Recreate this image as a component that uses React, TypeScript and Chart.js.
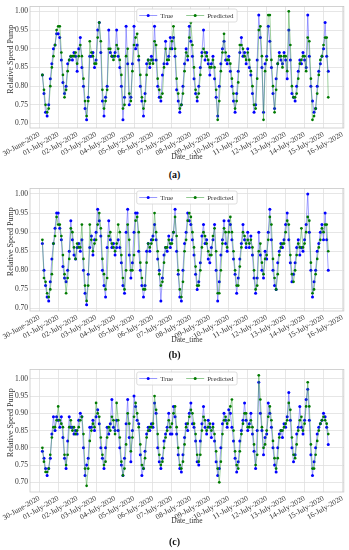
import React, { useEffect, useRef } from "react";
import { Chart, registerables } from "chart.js";

Chart.register(...registerables);

const FONT = '"Liberation Serif", "Times New Roman", serif';

const DAY_LABELS = [
  "30-June-2020", "01-July-2020", "02-July-2020", "03-July-2020", "04-July-2020",
  "05-July-2020", "06-July-2020", "07-July-2020", "08-July-2020", "09-July-2020",
  "10-July-2020", "11-July-2020", "12-July-2020", "13-July-2020", "14-July-2020",
  "15-July-2020", "16-July-2020",
];
const Y_TICKS = [0.7, 0.75, 0.8, 0.85, 0.9, 0.95, 1.0];
const START_HOUR = 4; // first sample: 30-June-2020 04:00
const STEP_HOURS = 2;
const SERIES_NAMES = ["True", "Predicted"];
const X_TITLE = "Date_time";
const Y_TITLE = "Relative Speed Pump";

// ---------- panel (a) ----------
const TRUE_A = [
  0.83, 0.78, 0.73, 0.72, 0.75, 0.82, 0.86, 0.90, 0.91, 0.94,
  0.94, 0.93, 0.87, 0.81, 0.78, 0.80, 0.86, 0.87, 0.88, 0.87, 0.89, 0.88,
  0.84, 0.90, 0.93, 0.85, 0.80, 0.74, 0.71, 0.77, 0.88, 0.88, 0.89, 0.85,
  0.87, 0.95, 0.97, 0.89, 0.76, 0.72, 0.77, 0.80, 0.95, 0.89, 0.88, 0.88,
  0.89, 0.95, 0.88, 0.85, 0.80, 0.71, 0.77, 0.96, 0.86, 0.75, 0.77, 0.86,
  0.96, 0.90, 0.91, 0.87, 0.80, 0.76, 0.72, 0.78, 0.86, 0.87, 0.85, 0.88,
  0.87, 0.96, 0.87, 0.80, 0.77, 0.76, 0.83, 0.86, 0.92, 0.86, 0.88, 0.93,
  0.90, 0.93, 0.88, 0.79, 0.76, 0.73, 0.75, 0.80, 0.86, 0.90, 0.87, 0.96,
  0.92, 0.88, 0.82, 0.78, 0.76, 0.80, 0.85, 0.89, 0.95, 0.87, 0.89, 0.86,
  0.83, 0.86, 0.88, 0.82, 0.77, 0.72, 0.80, 0.86, 0.90, 0.92, 0.87, 0.86,
  0.88, 0.84, 0.80, 0.76, 0.73, 0.78, 0.84, 0.89, 0.93, 0.88, 0.89, 0.86,
  0.90, 0.85, 0.83, 0.78, 0.73, 0.75, 0.87, 0.99, 0.93, 0.85, 0.73, 0.86,
  0.88, 0.96, 0.92, 0.85, 0.78, 0.74, 0.82, 0.86, 0.89, 0.87, 0.86, 0.89,
  0.87, 0.82, 0.95, 0.87, 0.78, 0.77, 0.76, 0.80, 0.84, 0.87, 0.86, 0.89,
  0.87, 0.85, 0.99, 0.88, 0.80, 0.76, 0.73, 0.74, 0.80, 0.84, 0.86, 0.88,
  0.90, 0.97, 0.88, 0.84,
];
const PRED_A = [
  0.83, 0.79, 0.75, 0.73, 0.74, 0.80, 0.85, 0.88, 0.91, 0.95,
  0.96, 0.96, 0.89, 0.83, 0.77, 0.79, 0.84, 0.87, 0.88, 0.88, 0.88, 0.89,
  0.86, 0.88, 0.91, 0.88, 0.82, 0.76, 0.72, 0.76, 0.92, 0.89, 0.88, 0.86,
  0.86, 0.93, 0.97, 0.92, 0.79, 0.74, 0.76, 0.79, 0.90, 0.90, 0.88, 0.87,
  0.88, 0.91, 0.90, 0.87, 0.83, 0.74, 0.75, 0.88, 0.90, 0.78, 0.76, 0.84,
  0.91, 0.93, 0.94, 0.88, 0.83, 0.77, 0.74, 0.76, 0.83, 0.87, 0.86, 0.87,
  0.86, 0.92, 0.91, 0.82, 0.79, 0.77, 0.78, 0.85, 0.90, 0.87, 0.87, 0.90,
  0.92, 0.96, 0.90, 0.82, 0.78, 0.74, 0.75, 0.78, 0.84, 0.89, 0.88, 0.93,
  0.97, 0.91, 0.85, 0.79, 0.77, 0.78, 0.83, 0.88, 0.90, 0.89, 0.88, 0.87,
  0.85, 0.85, 0.87, 0.85, 0.79, 0.71, 0.76, 0.84, 0.89, 0.94, 0.89, 0.87,
  0.87, 0.86, 0.82, 0.78, 0.74, 0.76, 0.81, 0.91, 0.91, 0.90, 0.88, 0.87,
  0.89, 0.87, 0.84, 0.80, 0.75, 0.74, 0.82, 0.95, 0.96, 0.88, 0.71, 0.84,
  0.87, 0.99, 0.99, 0.87, 0.80, 0.73, 0.79, 0.86, 0.88, 0.88, 0.85, 0.88,
  0.88, 0.84, 1.00, 0.91, 0.80, 0.77, 0.77, 0.78, 0.82, 0.86, 0.87, 0.88,
  0.88, 0.84, 0.93, 0.92, 0.82, 0.71, 0.72, 0.74, 0.78, 0.83, 0.87, 0.88,
  0.91, 0.93, 0.93, 0.77,
];

// ---------- panel (b) ----------
const TRUE_B = [
  0.87, 0.80, 0.76, 0.73, 0.72, 0.77, 0.83, 0.87, 0.91, 0.95,
  0.95, 0.91, 0.88, 0.81, 0.78, 0.77, 0.80, 0.85, 0.93, 0.88, 0.84, 0.83,
  0.86, 0.87, 0.85, 0.88, 0.80, 0.74, 0.71, 0.79, 0.86, 0.89, 0.84, 0.88,
  0.90, 0.96, 0.93, 0.89, 0.80, 0.76, 0.73, 0.86, 0.93, 0.88, 0.86, 0.87,
  0.84, 0.86, 0.88, 0.86, 0.82, 0.76, 0.74, 0.90, 0.96, 0.84, 0.78, 0.82,
  0.90, 0.95, 0.95, 0.85, 0.80, 0.76, 0.73, 0.76, 0.85, 0.87, 0.85, 0.88,
  0.89, 0.92, 0.88, 0.83, 0.80, 0.72, 0.78, 0.84, 0.86, 0.85, 0.89, 0.86,
  0.88, 0.90, 0.96, 0.85, 0.79, 0.73, 0.72, 0.80, 0.87, 0.90, 0.95, 0.93,
  0.92, 0.88, 0.84, 0.79, 0.75, 0.77, 0.82, 0.89, 0.92, 0.87, 0.88, 0.83,
  0.82, 0.86, 0.88, 0.92, 0.80, 0.72, 0.77, 0.84, 0.88, 0.93, 0.87, 0.85,
  0.93, 0.92, 0.88, 0.83, 0.79, 0.74, 0.78, 0.83, 0.87, 0.92, 0.88, 0.86,
  0.90, 0.86, 0.89, 0.84, 0.78, 0.74, 0.78, 0.90, 0.84, 0.80, 0.78, 0.85,
  0.83, 0.90, 0.96, 0.88, 0.80, 0.76, 0.75, 0.82, 0.85, 0.87, 0.86, 0.88,
  0.92, 0.95, 0.88, 0.82, 0.77, 0.79, 0.82, 0.86, 0.88, 0.84, 0.86, 0.85,
  0.88, 0.92, 1.00, 0.90, 0.80, 0.73, 0.77, 0.80, 0.85, 0.87, 0.90, 0.92,
  0.88, 0.95, 0.88, 0.80,
];
const PRED_B = [
  0.88, 0.78, 0.77, 0.74, 0.73, 0.75, 0.79, 0.87, 0.89, 0.94,
  0.92, 0.92, 0.89, 0.84, 0.79, 0.74, 0.78, 0.83, 0.91, 0.90, 0.86, 0.83,
  0.87, 0.86, 0.86, 0.92, 0.83, 0.76, 0.72, 0.76, 0.92, 0.88, 0.85, 0.87,
  0.88, 0.92, 0.95, 0.91, 0.83, 0.79, 0.75, 0.78, 0.89, 0.90, 0.87, 0.86,
  0.85, 0.87, 0.92, 0.90, 0.84, 0.78, 0.75, 0.80, 0.92, 0.88, 0.80, 0.80,
  0.84, 0.93, 0.94, 0.90, 0.82, 0.78, 0.75, 0.75, 0.82, 0.87, 0.86, 0.87,
  0.88, 0.95, 0.90, 0.85, 0.79, 0.76, 0.77, 0.82, 0.86, 0.86, 0.88, 0.87,
  0.87, 0.90, 0.94, 0.89, 0.80, 0.75, 0.73, 0.77, 0.85, 0.88, 0.93, 0.95,
  0.94, 0.90, 0.86, 0.81, 0.76, 0.76, 0.80, 0.86, 0.90, 0.89, 0.87, 0.85,
  0.84, 0.84, 0.89, 0.91, 0.85, 0.74, 0.74, 0.80, 0.87, 0.91, 0.90, 0.86,
  0.90, 0.94, 0.90, 0.85, 0.80, 0.76, 0.76, 0.81, 0.86, 0.90, 0.89, 0.87,
  0.88, 0.87, 0.88, 0.86, 0.80, 0.75, 0.76, 0.85, 0.87, 0.82, 0.79, 0.83,
  0.84, 0.88, 0.94, 0.92, 0.83, 0.78, 0.75, 0.79, 0.84, 0.86, 0.87, 0.87,
  0.90, 0.93, 0.92, 0.84, 0.79, 0.77, 0.80, 0.84, 0.87, 0.86, 0.91, 0.86,
  0.87, 0.90, 0.94, 0.93, 0.82, 0.74, 0.75, 0.79, 0.83, 0.86, 0.88, 0.91,
  0.90, 0.92, 0.92, 0.85,
];

// ---------- panel (c) ----------
const TRUE_C = [
  0.79, 0.77, 0.74, 0.72, 0.74, 0.77, 0.84, 0.89, 0.85, 0.89,
  0.88, 0.86, 0.89, 0.83, 0.77, 0.74, 0.82, 0.89, 0.86, 0.86, 0.84, 0.85,
  0.84, 0.88, 0.90, 0.89, 0.80, 0.72, 0.75, 0.77, 0.86, 0.86, 0.88, 0.85,
  0.89, 0.91, 0.87, 0.80, 0.77, 0.74, 0.80, 0.86, 0.84, 0.87, 0.94, 0.86,
  0.85, 0.88, 0.85, 0.80, 0.75, 0.72, 0.77, 0.87, 0.94, 0.83, 0.76, 0.85,
  0.95, 0.92, 0.88, 0.87, 0.78, 0.72, 0.74, 0.79, 0.84, 0.86, 0.85, 0.87,
  0.86, 0.93, 0.90, 0.80, 0.76, 0.74, 0.77, 0.82, 0.84, 0.86, 0.90, 0.84,
  0.84, 0.92, 0.89, 0.84, 0.78, 0.74, 0.73, 0.78, 0.83, 0.87, 0.85, 0.90,
  0.93, 0.87, 0.86, 0.82, 0.76, 0.75, 0.82, 0.87, 0.92, 0.86, 0.84, 0.88,
  0.86, 0.83, 0.87, 0.82, 0.76, 0.72, 0.74, 0.80, 0.87, 0.90, 0.88, 0.86,
  0.91, 0.90, 0.86, 0.82, 0.77, 0.73, 0.76, 0.82, 0.85, 0.88, 0.93, 0.88,
  0.85, 0.87, 0.90, 0.84, 0.79, 0.74, 0.85, 0.99, 0.90, 0.85, 0.78, 0.83,
  0.84, 0.93, 0.90, 0.86, 0.80, 0.75, 0.73, 0.80, 0.84, 0.85, 0.83, 0.87,
  0.86, 0.89, 0.96, 0.88, 0.80, 0.76, 0.78, 0.84, 0.86, 0.92, 0.86, 0.84,
  0.88, 0.94, 0.97, 0.88, 0.78, 0.72, 0.76, 0.80, 0.84, 0.86, 0.87, 0.88,
  0.90, 0.89, 0.86, 0.81,
];
const PRED_C = [
  0.80, 0.76, 0.73, 0.73, 0.74, 0.78, 0.83, 0.86, 0.86, 0.88,
  0.92, 0.88, 0.87, 0.86, 0.78, 0.75, 0.78, 0.86, 0.88, 0.85, 0.86, 0.84,
  0.85, 0.86, 0.88, 0.89, 0.84, 0.74, 0.69, 0.74, 0.82, 0.85, 0.87, 0.86,
  0.93, 0.90, 0.89, 0.83, 0.78, 0.75, 0.76, 0.83, 0.86, 0.85, 0.89, 0.88,
  0.84, 0.93, 0.88, 0.83, 0.76, 0.72, 0.74, 0.81, 0.90, 0.87, 0.79, 0.83,
  0.89, 0.93, 0.90, 0.86, 0.81, 0.75, 0.74, 0.77, 0.83, 0.85, 0.86, 0.86,
  0.87, 0.95, 0.91, 0.84, 0.78, 0.75, 0.76, 0.80, 0.83, 0.85, 0.88, 0.86,
  0.87, 0.90, 0.92, 0.86, 0.80, 0.75, 0.74, 0.76, 0.81, 0.86, 0.87, 0.89,
  0.91, 0.90, 0.87, 0.84, 0.78, 0.76, 0.78, 0.85, 0.89, 0.88, 0.85, 0.86,
  0.87, 0.85, 0.86, 0.84, 0.79, 0.74, 0.70, 0.76, 0.84, 0.88, 0.89, 0.87,
  0.88, 0.92, 0.94, 0.85, 0.79, 0.75, 0.74, 0.79, 0.84, 0.87, 0.90, 0.90,
  0.86, 0.86, 0.88, 0.86, 0.81, 0.75, 0.78, 1.01, 0.94, 0.86, 0.80, 0.81,
  0.85, 0.89, 0.92, 0.88, 0.82, 0.77, 0.74, 0.77, 0.83, 0.85, 0.85, 0.86,
  0.87, 0.88, 0.93, 0.91, 0.83, 0.78, 0.77, 0.81, 0.85, 0.88, 0.89, 0.85,
  0.87, 0.92, 0.99, 0.92, 0.81, 0.74, 0.74, 0.78, 0.82, 0.85, 0.87, 0.88,
  0.89, 0.88, 0.87, 0.84,
];

const X_MIN = -11.7;
const X_MAX = 385.7;

const TRUE_COLOR = "#0000ff";
const TRUE_LINE = "rgba(70,70,255,0.55)";
const PRED_COLOR = "#007a00";
const PRED_LINE = "rgba(40,150,40,0.5)";

type PanelDef = {
  key: string;
  top: number;
  height: number;
  yMin: number;
  yMax: number;
  trueVals: number[];
  predVals: number[];
  caption: string;
  captionY: number;
};

const PANELS: PanelDef[] = [
  { key: "a", top: 0, height: 168, yMin: 0.688, yMax: 1.013, trueVals: TRUE_A, predVals: PRED_A, caption: "(a)", captionY: 175 },
  { key: "b", top: 182, height: 169, yMin: 0.6935, yMax: 1.0144, trueVals: TRUE_B, predVals: PRED_B, caption: "(b)", captionY: 355 },
  { key: "c", top: 363, height: 169, yMin: 0.672, yMax: 1.027, trueVals: TRUE_C, predVals: PRED_C, caption: "(c)", captionY: 542 },
];

const decorPlugin = {
  id: "decor",
  afterDraw(chart: any) {
    const { ctx, chartArea: a } = chart;
    ctx.save();
    ctx.strokeStyle = "#c8c8c8";
    ctx.lineWidth = 0.8;
    ctx.strokeRect(a.left, a.top, a.right - a.left, a.bottom - a.top);

    ctx.fillStyle = "#333";
    ctx.font = `7.5px ${FONT}`;
    ctx.textAlign = "center";
    ctx.textBaseline = "middle";
    ctx.fillText(X_TITLE, (a.left + a.right) / 2, a.bottom + 29);

    ctx.save();
    ctx.font = `8px ${FONT}`;
    ctx.translate(11, (a.top + a.bottom) / 2 - 8);
    ctx.rotate(-Math.PI / 2);
    ctx.fillText(Y_TITLE, 0, 0);
    ctx.restore();

    ctx.font = `7px ${FONT}`;
    const sample = 18;
    const gapS = 3;
    const gapItem = 13;
    const pad = 2.5;
    const w0 = ctx.measureText(SERIES_NAMES[0]).width;
    const w1 = ctx.measureText(SERIES_NAMES[1]).width;
    const boxW = pad + sample + gapS + w0 + gapItem + sample + gapS + w1 + pad + 1;
    const boxH = 13;
    const cx = (a.left + a.right) / 2;
    const bx = cx - boxW / 2;
    const by = a.top + 2.5;
    ctx.fillStyle = "rgba(255,255,255,0.85)";
    ctx.strokeStyle = "#d4d4d4";
    ctx.lineWidth = 0.8;
    ctx.beginPath();
    if ((ctx as any).roundRect) (ctx as any).roundRect(bx, by, boxW, boxH, 2);
    else ctx.rect(bx, by, boxW, boxH);
    ctx.fill();
    ctx.stroke();
    const cy = by + boxH / 2;
    const items = [
      { name: SERIES_NAMES[0], line: TRUE_LINE, dot: TRUE_COLOR, w: w0 },
      { name: SERIES_NAMES[1], line: PRED_LINE, dot: PRED_COLOR, w: w1 },
    ];
    let x = bx + pad;
    items.forEach((it, i) => {
      ctx.strokeStyle = it.line;
      ctx.lineWidth = 1;
      ctx.beginPath();
      ctx.moveTo(x, cy);
      ctx.lineTo(x + sample, cy);
      ctx.stroke();
      ctx.fillStyle = it.dot;
      ctx.beginPath();
      ctx.arc(x + sample / 2, cy, 1.5, 0, Math.PI * 2);
      ctx.fill();
      x += sample + gapS;
      ctx.fillStyle = "#333";
      ctx.textAlign = "left";
      ctx.fillText(it.name, x, cy + 0.5);
      x += it.w + (i === 0 ? gapItem : 0);
    });
    ctx.restore();
  },
};

function Panel({ def }: { def: PanelDef }) {
  const ref = useRef<HTMLCanvasElement | null>(null);
  useEffect(() => {
    if (!ref.current) return;
    const hours = def.trueVals.map((_, i) => START_HOUR + i * STEP_HOURS);
    const chart = new Chart(ref.current, {
      type: "line",
      data: {
        datasets: [
          {
            label: SERIES_NAMES[0],
            data: hours.map((h, i) => ({ x: h, y: def.trueVals[i] })),
            borderColor: TRUE_LINE,
            borderWidth: 0.9,
            pointRadius: 1.5,
            pointBackgroundColor: TRUE_COLOR,
            pointBorderWidth: 0,
            tension: 0,
            order: 1,
          },
          {
            label: SERIES_NAMES[1],
            data: hours.map((h, i) => ({ x: h, y: def.predVals[i] })),
            borderColor: PRED_LINE,
            borderWidth: 0.9,
            pointRadius: 1.35,
            pointBackgroundColor: PRED_COLOR,
            pointBorderWidth: 0,
            tension: 0,
            order: 0,
          },
        ],
      },
      options: {
        animation: false,
        responsive: false,
        events: [],
        layout: { padding: { top: 6, right: 4, left: 0, bottom: 0 } },
        plugins: { legend: { display: false }, tooltip: { enabled: false } },
        scales: {
          x: {
            type: "linear",
            min: X_MIN,
            max: X_MAX,
            afterBuildTicks: (s: any) => {
              s.ticks = DAY_LABELS.map((_, i) => ({ value: i * 24 }));
            },
            afterFit: (s: any) => {
              s.height = 40;
            },
            ticks: {
              autoSkip: false,
              minRotation: 30,
              maxRotation: 30,
              padding: 2,
              color: "#333",
              font: { family: FONT, size: 7.5 },
              callback: (v: any) => DAY_LABELS[Math.round(Number(v) / 24)],
            },
            grid: { color: "#e0e0e0", lineWidth: 0.8, drawTicks: false },
            border: { display: false },
          },
          y: {
            min: def.yMin,
            max: def.yMax,
            afterBuildTicks: (s: any) => {
              s.ticks = Y_TICKS.map((v) => ({ value: v }));
            },
            afterFit: (s: any) => {
              s.width = 30;
            },
            ticks: {
              padding: 2,
              color: "#333",
              font: { family: FONT, size: 7.5 },
              callback: (v: any) => Number(v).toFixed(2),
            },
            grid: { color: "#e0e0e0", lineWidth: 0.8, drawTicks: false },
            border: { display: false },
          },
        },
      } as any,
      plugins: [decorPlugin],
    } as any);
    return () => chart.destroy();
  }, [def]);
  return (
    <>
      <canvas
        ref={ref}
        width={349}
        height={def.height}
        style={{ position: "absolute", left: 0, top: def.top, width: 349, height: def.height }}
      />
      <div
        style={{
          position: "absolute",
          left: 0,
          width: 349,
          top: def.captionY - 7,
          height: 14,
          lineHeight: "14px",
          textAlign: "center",
          fontFamily: FONT,
          fontWeight: "bold",
          fontSize: 10,
          color: "#111",
        }}
      >
        {def.caption}
      </div>
    </>
  );
}

export default function App() {
  return (
    <div style={{ position: "absolute", left: 0, top: 0, width: 349, height: 550, background: "#fff", overflow: "hidden" }}>
      {PANELS.map((p) => (
        <Panel key={p.key} def={p} />
      ))}
    </div>
  );
}
